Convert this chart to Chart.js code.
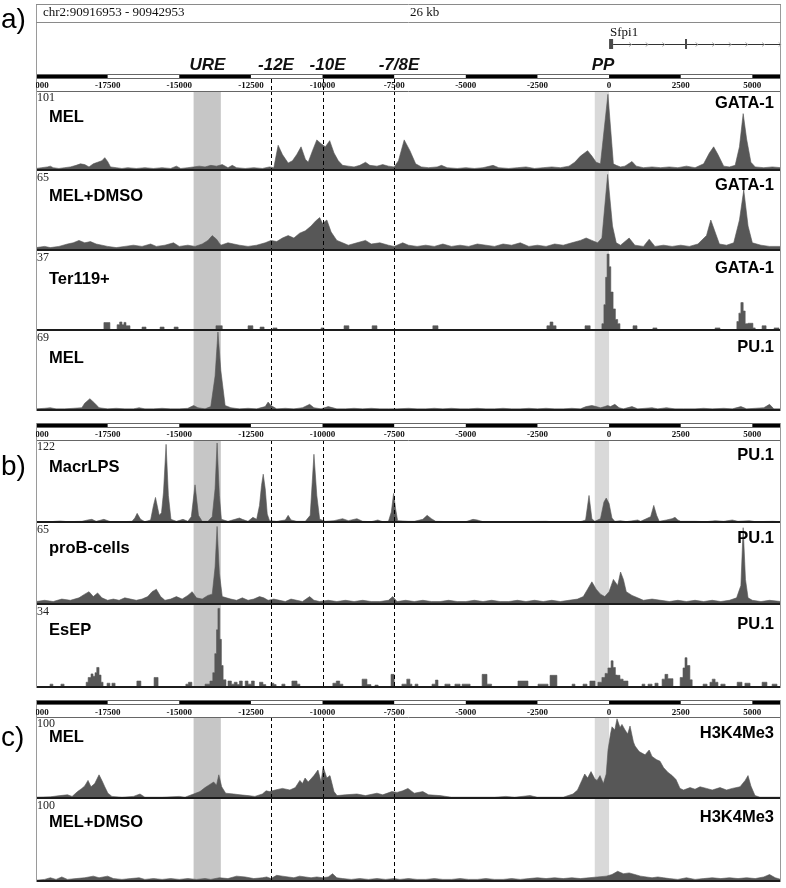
<!DOCTYPE html>
<html><head><meta charset="utf-8">
<script src="https://cdn.jsdelivr.net/npm/chart.js@4.4.0/dist/chart.umd.min.js"></script>
<style>
body{margin:0;background:#fff}
#wrap{position:relative;width:786px;height:888px;overflow:hidden;background:#fff}
#wrap canvas{position:absolute;left:0}
</style></head><body><div id="wrap"></div>
<script>
// ---------- axis / annotation values ----------
const X_MIN = -20000, X_MAX = 6000;
const rulerTicks = [-20000,-17500,-15000,-12500,-10000,-7500,-5000,-2500,0,2500,5000];
const ureBand = [-14500,-13550];
const ppBand = [-500,0];
const enhancerLines = [-11800,-10000,-7500];
const elementNames = ['URE','-12E','-10E','-7/8E','PP'];
const elementCenters = [-14015,-11624,-9826,-7331,-212];
const geneExon1 = [0,140];
const geneExon2 = [2650,2720];

// ---------- series ([position, signal]) ----------
const melGata1 = [[-20000,2],[-19800,3],[-19600,4],[-19500,5],[-19400,3],[-19200,2],[-19000,3],[-18800,4],[-18600,6],[-18450,8],[-18300,7],[-18150,4],[-18000,8],[-17850,10],[-17700,12],[-17600,16],[-17500,11],[-17400,4],[-17200,3],[-17000,2],[-16800,3],[-16500,2],[-16200,3],[-15900,2],[-15600,3],[-15300,2],[-15100,5],[-14950,2],[-14700,3],[-14500,4],[-14300,5],[-14100,4],[-13900,6],[-13700,5],[-13500,7],[-13300,3],[-13150,6],[-13000,3],[-12700,2],[-12400,3],[-12100,2],[-11850,4],[-11700,3],[-11550,32],[-11400,20],[-11200,9],[-11050,12],[-10900,20],[-10750,30],[-10600,14],[-10500,10],[-10350,25],[-10200,39],[-10050,34],[-9900,30],[-9750,38],[-9600,22],[-9450,12],[-9300,6],[-9100,5],[-8900,4],[-8700,6],[-8500,10],[-8350,6],[-8100,5],[-7900,7],[-7700,5],[-7500,4],[-7350,12],[-7150,39],[-6950,25],[-6750,8],[-6550,4],[-6300,3],[-6000,4],[-5850,6],[-5650,3],[-5300,2],[-5000,3],[-4700,2],[-4400,3],[-4050,6],[-3850,3],[-3500,2],[-3200,3],[-2900,4],[-2600,2],[-2300,3],[-2000,4],[-1700,3],[-1400,5],[-1200,10],[-1000,18],[-750,25],[-600,18],[-450,10],[-300,8],[-40,98],[150,8],[250,6],[400,4],[550,5],[800,11],[950,5],[1200,3],[1500,4],[1800,3],[2100,4],[2400,3],[2700,5],[3000,3],[3300,8],[3500,22],[3650,30],[3800,20],[4000,5],[4200,4],[4400,6],[4550,30],[4680,73],[4800,40],[4950,10],[5100,4],[5400,3],[5700,4],[6000,3]];

const dmsoGata1 = [[-20000,2],[-19700,3],[-19500,2],[-19200,3],[-18900,5],[-18700,6],[-18500,8],[-18300,6],[-18100,7],[-17900,5],[-17700,4],[-17500,3],[-17200,2],[-16900,3],[-16600,4],[-16300,3],[-16000,5],[-15800,3],[-15500,4],[-15200,6],[-15000,3],[-14700,4],[-14450,3],[-14200,5],[-14000,8],[-13850,12],[-13700,9],[-13550,4],[-13300,6],[-13100,5],[-12900,4],[-12600,3],[-12300,4],[-12000,6],[-11800,8],[-11600,7],[-11400,10],[-11200,12],[-11000,10],[-10800,14],[-10600,16],[-10400,20],[-10250,24],[-10100,27],[-10000,22],[-9850,25],[-9700,15],[-9500,8],[-9300,6],[-9100,4],[-8800,6],[-8500,8],[-8300,5],[-8000,6],[-7700,4],[-7500,3],[-7200,6],[-7000,4],[-6700,3],[-6400,4],[-6100,3],[-5800,5],[-5500,3],[-5200,4],[-4900,3],[-4600,5],[-4300,4],[-4000,3],[-3700,5],[-3400,4],[-3100,6],[-2800,3],[-2500,4],[-2200,3],[-1900,5],[-1600,4],[-1300,6],[-1000,8],[-800,10],[-600,8],[-400,6],[-250,10],[-50,63],[120,20],[250,6],[400,4],[700,10],[900,4],[1200,3],[1400,9],[1600,3],[1900,4],[2200,3],[2500,4],[2800,3],[3100,5],[3400,12],[3550,25],[3700,15],[3850,5],[4100,4],[4350,6],[4550,25],[4700,50],[4850,20],[5000,6],[5300,4],[5600,3],[6000,3]];

const terGata1 = [[-20000,0],[-17630,3.5],[-17420,0],[-17170,2.5],[-17080,3.8],[-17000,2.5],[-16930,3.6],[-16860,2],[-16720,0],[-16300,1.4],[-16160,0],[-15670,1.4],[-15530,0],[-15180,1.4],[-15040,0],[-13720,2],[-13500,0],[-12600,2],[-12430,0],[-12180,1.4],[-12040,0],[-11730,1],[-11590,0],[-10050,1],[-9950,0],[-9250,2],[-9080,0],[-8270,2],[-8100,0],[-6150,2],[-5970,0],[-2170,2],[-2060,3.8],[-1960,2],[-1850,0],[-840,2],[-660,0],[-250,3],[-180,12],[-120,25],[-70,36],[0,30],[60,18],[140,10],[220,5],[300,3],[380,0],[835,2],[975,0],[1530,1],[1670,0],[3700,1],[3870,0],[4460,4],[4530,8],[4600,13],[4680,9],[4750,3],[4850,3.2],[5020,1],[5100,0],[5340,2],[5480,0],[5760,1],[5930,0],[6000,0]];

const melPu1 = [[-20000,1],[-19700,1.5],[-19500,2],[-19300,1],[-19000,1],[-18700,1.5],[-18400,2],[-18300,6],[-18120,10],[-17950,6],[-17800,2],[-17500,1],[-17200,1.5],[-16900,1],[-16600,1],[-16400,2],[-16200,1],[-15900,1],[-15600,1.5],[-15300,1],[-15000,1],[-14700,1.5],[-14500,4],[-14350,2],[-14100,1],[-13900,3],[-13750,30],[-13650,69],[-13550,35],[-13400,4],[-13200,2],[-12900,1],[-12600,1.5],[-12300,1],[-12000,3],[-11900,7],[-11800,4],[-11600,1],[-11300,1.5],[-11000,1],[-10700,2],[-10450,5],[-10300,2],[-10050,1],[-9800,3],[-9500,1],[-9200,1],[-8900,1.5],[-8600,1],[-8300,1.5],[-8000,1],[-7700,1],[-7400,1],[-7000,1.5],[-6700,1],[-6400,1],[-6100,1.5],[-5800,1],[-5500,1.5],[-5200,1],[-4900,1],[-4600,1.5],[-4300,1],[-4000,1],[-3700,1.5],[-3400,1],[-3100,1],[-2800,1.5],[-2500,1],[-2200,1.5],[-1900,1],[-1600,1],[-1300,1.5],[-1000,1],[-800,3],[-600,4],[-450,3],[-300,2],[-150,3],[-50,4],[50,3],[200,5],[350,2],[500,1],[800,3],[1000,1],[1500,2],[1700,1],[2000,2],[2300,1],[2600,1],[3000,1],[3300,1.5],[3600,1],[4000,1.5],[4300,1],[4600,3],[4800,1],[5100,1.5],[5400,2],[5600,5],[5750,1],[6000,1]];

const macrPu1 = [[-20000,0.5],[-19500,0.5],[-19160,1.5],[-18900,0.5],[-18400,1],[-18200,3],[-18050,4],[-17900,1],[-17630,4],[-17400,0.5],[-17000,0.5],[-16650,1],[-16550,6],[-16470,13],[-16350,4],[-16200,0.5],[-16000,3],[-15900,25],[-15830,37],[-15700,10],[-15620,14],[-15550,45],[-15460,117],[-15380,40],[-15290,4],[-15100,1],[-14870,4],[-14700,1],[-14580,8],[-14450,56],[-14330,10],[-14200,1],[-14000,1],[-13850,8],[-13750,50],[-13680,119],[-13600,40],[-13530,4],[-13300,1],[-12900,6],[-12800,4],[-12600,1],[-12430,7],[-12300,4],[-12200,25],[-12130,55],[-12070,72],[-12000,50],[-11930,12],[-11850,2],[-11600,1],[-11300,3],[-11200,10],[-11100,3],[-10900,1],[-10600,1],[-10430,10],[-10360,60],[-10300,102],[-10200,40],[-10100,4],[-9900,1],[-9600,2],[-9300,5],[-9100,2],[-8800,5],[-8600,1],[-8300,0.5],[-8070,3],[-7900,0.5],[-7700,1],[-7600,15],[-7520,43],[-7450,20],[-7380,2],[-7000,1],[-6800,1],[-6500,4],[-6350,10],[-6200,5],[-6050,1],[-5500,0.5],[-5000,0.5],[-4750,4],[-4600,3],[-4400,0.5],[-4000,0.5],[-3500,0.5],[-2200,1],[-2000,0.5],[-1000,0.5],[-820,3],[-700,40],[-600,5],[-500,1],[-300,5],[-180,30],[-100,36],[0,28],[100,6],[200,1],[400,2],[600,0.5],[1000,3],[1100,1],[1450,8],[1560,25],[1660,10],[1750,1],[2000,3],[2200,5],[2300,7],[2400,3],[2500,1],[3000,1],[3400,0.5],[3700,2],[4000,1],[4300,3],[4500,1],[4900,2],[5100,0.5],[5700,1],[6000,0.5]];

const probPu1 = [[-20000,2],[-19700,3],[-19400,2],[-19100,4],[-18800,3],[-18500,5],[-18300,8],[-18150,10],[-18000,6],[-17850,9],[-17700,5],[-17500,3],[-17300,4],[-17100,3],[-16900,5],[-16700,4],[-16500,3],[-16300,4],[-16100,6],[-15950,10],[-15800,12],[-15650,6],[-15500,3],[-15300,4],[-15100,6],[-14900,4],[-14700,7],[-14550,10],[-14400,5],[-14200,4],[-14000,7],[-13850,8],[-13750,30],[-13680,63],[-13600,25],[-13500,6],[-13350,5],[-13200,4],[-13000,3],[-12800,5],[-12600,3],[-12400,4],[-12200,6],[-12050,5],[-11900,3],[-11700,4],[-11500,3],[-11300,2],[-11100,4],[-10900,3],[-10700,2],[-10450,6],[-10300,3],[-10100,2],[-9800,3],[-9500,2],[-9200,3],[-8900,2],[-8600,3],[-8300,2],[-8000,2],[-7700,3],[-7550,6],[-7400,2],[-7100,3],[-6800,2],[-6500,3],[-6200,2],[-5900,2],[-5600,3],[-5300,2],[-5000,2],[-4700,3],[-4400,2],[-4100,3],[-3800,2],[-3500,2],[-3200,3],[-2900,2],[-2600,3],[-2300,2],[-2000,3],[-1700,2],[-1400,3],[-1100,4],[-900,6],[-750,12],[-600,18],[-450,12],[-300,8],[-150,6],[0,10],[150,20],[300,15],[400,26],[500,20],[600,10],[800,7],[1000,5],[1200,3],[1500,4],[1800,3],[2100,2],[2400,3],[2700,2],[3000,3],[3300,2],[3600,3],[3900,2],[4200,3],[4450,5],[4600,15],[4680,62],[4760,20],[4850,5],[5000,3],[5300,2],[5600,3],[6000,2]];

const esepPu1 = [[-20000,0],[-19510,1.2],[-19410,0],[-19130,1.2],[-19020,0],[-18250,2],[-18180,4],[-18080,5.5],[-18010,4.5],[-17940,6],[-17880,8.2],[-17800,5],[-17730,2],[-17660,0],[-17520,1.6],[-17420,0],[-17350,1.6],[-17240,0],[-16480,2.5],[-16340,0],[-15880,4],[-15740,0],[-14770,1.2],[-14680,2],[-14560,0],[-14100,1.2],[-13930,2.5],[-13830,6],[-13760,14],[-13700,24],[-13650,33],[-13590,20],[-13530,9],[-13470,3],[-13370,0],[-13300,2.5],[-13180,1.2],[-13080,2],[-12980,1],[-12900,2.5],[-12800,0],[-12700,2.5],[-12600,1.2],[-12480,2.5],[-12380,0],[-12200,2],[-12080,1],[-11980,0],[-11800,1.6],[-11700,1],[-11620,0],[-11420,1.2],[-11310,0],[-11070,2.5],[-10890,1.2],[-10790,0],[-9640,1.6],[-9520,2.5],[-9400,1.2],[-9290,0],[-8620,3.3],[-8450,1],[-8310,0],[-8170,0.8],[-8060,0],[-7610,5.3],[-7500,0],[-7230,1.2],[-7060,3.3],[-6950,1.2],[-6880,0],[-6770,1.2],[-6670,0],[-6180,1.2],[-6060,2.9],[-5970,0],[-5730,1.2],[-5550,0],[-5380,1.2],[-5200,0],[-5130,1.2],[-4850,0],[-4430,5.3],[-4260,1.2],[-4100,0],[-3180,2.5],[-2830,0],[-2480,1.2],[-2130,0],[-2060,4.9],[-1820,0],[-1290,1.2],[-1190,0],[-910,1.2],[-770,0],[-670,2.5],[-490,0],[-390,2],[-250,4],[-140,5.7],[-40,8],[70,11],[140,8.2],[220,5],[280,4.9],[380,3.3],[490,2.5],[660,0],[1150,1.2],[1250,0],[1360,1.2],[1500,0],[1600,1.6],[1710,0],[1850,3.3],[1950,5.3],[2050,3.5],[2230,0],[2480,4],[2580,8],[2650,12.3],[2720,9],[2820,3],[2900,0],[3280,1.2],[3420,0],[3520,2],[3600,3.3],[3700,2],[3800,0],[3900,1.2],[4050,0],[4470,2],[4640,0],[4740,1.6],[4920,0],[5340,2],[5510,0],[5690,1.2],[5860,0],[6000,0]];

const melK4 = [[-20000,1],[-19500,1.5],[-19160,3],[-18900,4],[-18740,2],[-18550,8],[-18400,12],[-18300,15],[-18185,22],[-18080,14],[-17950,18],[-17800,29],[-17700,22],[-17600,14],[-17490,6],[-17350,2],[-17000,1],[-16600,2],[-16370,5],[-16200,1],[-15600,1],[-15000,2],[-14800,1],[-14500,5],[-14280,8],[-14100,13],[-13930,17],[-13800,20],[-13700,16],[-13620,29],[-13520,14],[-13380,6],[-13100,5],[-12880,4],[-12600,3],[-12360,2],[-12100,5],[-11970,9],[-11850,8],[-11650,10],[-11400,12],[-11140,10],[-10950,13],[-10790,22],[-10700,18],[-10610,25],[-10500,20],[-10300,28],[-10160,35],[-10050,20],[-9980,39],[-9850,25],[-9740,28],[-9600,8],[-9495,3],[-9200,4],[-8800,5],[-8500,3],[-8100,6],[-7900,4],[-7580,8],[-7400,7],[-7200,9],[-7020,12],[-6800,6],[-6500,8],[-6300,4],[-5900,3],[-5500,1],[-4000,1],[-3600,2],[-3300,1],[-2760,3],[-2500,1],[-1600,1],[-1260,5],[-1100,10],[-950,22],[-850,30],[-750,25],[-630,33],[-500,24],[-420,22],[-316,28],[-200,18],[-100,30],[-37,60],[50,80],[102,89],[200,85],[277,99],[382,88],[450,92],[557,85],[650,80],[731,90],[850,70],[906,65],[1050,58],[1255,54],[1400,60],[1498,52],[1650,48],[1778,46],[1900,38],[2057,32],[2200,28],[2336,23],[2476,12],[2600,10],[2825,13],[3000,11],[3174,14],[3400,12],[3600,10],[3872,13],[4100,10],[4300,12],[4570,14],[4750,22],[4849,28],[4950,15],[5093,3],[5268,1],[6000,1]];

const dmsoK4 = [[-20000,1],[-19700,2],[-19500,4],[-19300,2],[-19100,5],[-18900,2],[-18600,3],[-18300,4],[-18000,6],[-17800,4],[-17500,6],[-17300,3],[-17000,2],[-16700,3],[-16400,4],[-16200,2],[-15900,3],[-15600,2],[-15300,3],[-15000,2],[-14700,3],[-14400,2],[-14100,3],[-13900,2],[-13600,4],[-13300,3],[-13000,6],[-12700,5],[-12400,3],[-12100,4],[-11950,5],[-11800,3],[-11600,7],[-11400,6],[-11200,5],[-11000,4],[-10800,6],[-10600,5],[-10400,4],[-10200,5],[-10000,4],[-9800,5],[-9650,9],[-9500,4],[-9300,3],[-9000,2],[-8700,3],[-8400,2],[-8100,3],[-7800,2],[-7500,3],[-7300,2],[-7000,3],[-6700,2],[-6400,2],[-6100,3],[-5800,2],[-5500,2],[-5200,3],[-4900,2],[-4600,2],[-4300,3],[-4000,2],[-3700,2],[-3400,3],[-3100,2],[-2800,3],[-2500,4],[-2200,3],[-1900,4],[-1600,3],[-1300,4],[-1000,3],[-700,4],[-400,5],[-100,6],[100,8],[300,12],[500,9],[700,10],[900,8],[1100,6],[1300,5],[1500,4],[1700,5],[1900,4],[2100,3],[2400,2],[2700,4],[3000,2],[3300,3],[3600,4],[3900,3],[4200,4],[4500,3],[4800,4],[5100,3],[5400,5],[5600,8],[5800,4],[6000,2]];

// ---------- layout table ----------
const tracks = [
 {top:91, h:80, data:melGata1, max:101, name:'MEL',        target:'GATA-1',  nameY:26, targetY:12, topLine:true},
 {top:171,h:80, data:dmsoGata1,max:65,  name:'MEL+DMSO',   target:'GATA-1',  nameY:25, targetY:14},
 {top:251,h:80, data:terGata1, max:37,  name:'Ter119+',    target:'GATA-1',  nameY:28, targetY:17, stepped:true},
 {top:331,h:80, data:melPu1,   max:69,  name:'MEL',        target:'PU.1',    nameY:27, targetY:16},
 {top:440,h:83, data:macrPu1,  max:122, name:'MacrLPS',    target:'PU.1',    nameY:27, targetY:15, topLine:true, panel:'b)', panelY:27},
 {top:523,h:82, data:probPu1,  max:65,  name:'proB-cells', target:'PU.1',    nameY:25, targetY:15},
 {top:605,h:83, data:esepPu1,  max:34,  name:'EsEP',       target:'PU.1',    nameY:25, targetY:19, stepped:true},
 {top:717,h:82, data:melK4,    max:100, name:'MEL',        target:'H3K4Me3', nameY:20, targetY:16, topLine:true, panel:'c)', panelY:21},
 {top:799,h:83, data:dmsoK4,   max:100, name:'MEL+DMSO',   target:'H3K4Me3', nameY:23, targetY:18}
];
const rulers = [
 {top:0,   h:91, barTop:74, barH:5, labelY:86, header:true},
 {top:411, h:29, barTop:12, barH:5, labelY:24},
 {top:688, h:29, barTop:12, barH:5, labelY:25}
];

const SANS = '"Liberation Sans", Arial, sans-serif';
const SERIF = '"Liberation Serif", "Times New Roman", serif';
const L = 36, R = 781;

function vline(ctx,x,y1,y2){ctx.beginPath();ctx.moveTo(x,y1);ctx.lineTo(x,y2);ctx.stroke();}
function hline(ctx,y,x1,x2){ctx.beginPath();ctx.moveTo(x1,y);ctx.lineTo(x2,y);ctx.stroke();}

const trackPlugin = {
  id:'trk',
  beforeDatasetsDraw(chart,args,o){
    const {ctx} = chart; const X = chart.scales.x;
    ctx.save();
    ctx.fillStyle = '#c6c6c6';
    let x1 = X.getPixelForValue(ureBand[0]), x2 = X.getPixelForValue(ureBand[1]);
    ctx.fillRect(x1, 0, x2-x1, chart.height);
    ctx.fillStyle = '#d9d9d9';
    x1 = X.getPixelForValue(ppBand[0]); x2 = X.getPixelForValue(ppBand[1]);
    ctx.fillRect(x1, 0, x2-x1, chart.height);
    ctx.restore();
  },
  afterDatasetsDraw(chart,args,o){
    const {ctx} = chart; const X = chart.scales.x; const H = chart.height;
    ctx.save();
    ctx.strokeStyle = '#000'; ctx.lineWidth = 1; ctx.setLineDash([4,3]);
    for (const v of enhancerLines){ const x = Math.round(X.getPixelForValue(v))+0.5; vline(ctx,x,0,H); }
    ctx.setLineDash([]);
    ctx.strokeStyle = '#1c1c1c'; ctx.lineWidth = 2; hline(ctx,H-1,L,R);
    if (o.topLine){ ctx.strokeStyle='#666'; ctx.lineWidth=1; hline(ctx,0.5,L,R); }
    ctx.strokeStyle = '#9a9a9a'; ctx.lineWidth = 1; vline(ctx,L+0.5,0,H); vline(ctx,R-0.5,0,H);
    ctx.fillStyle = '#000';
    ctx.font = 'bold 16.5px '+SANS; ctx.textBaseline='middle';
    ctx.textAlign='left'; ctx.fillText(o.name,49,o.nameY);
    ctx.textAlign='right'; ctx.fillText(o.target,774,o.targetY);
    ctx.font = '12px '+SERIF; ctx.textAlign='left'; ctx.textBaseline='top';
    ctx.fillStyle='#222'; ctx.fillText(String(o.max),37,1);
    if (o.panel){ ctx.fillStyle='#000'; ctx.font='28px '+SANS; ctx.textBaseline='middle'; ctx.fillText(o.panel,1,o.panelY); }
    ctx.restore();
  }
};

const rulerPlugin = {
  id:'rul',
  afterDraw(chart,args,o){
    const {ctx} = chart; const X = chart.scales.x; const H = chart.height;
    ctx.save();
    const edges = rulerTicks.concat([X_MAX]);
    for (let i=0;i<edges.length-1;i++){
      if (i%2===0){ const a=X.getPixelForValue(edges[i]), b=X.getPixelForValue(edges[i+1]); ctx.fillStyle='#000'; ctx.fillRect(a,o.barTop,b-a,o.barH); }
    }
    ctx.strokeStyle='#666'; ctx.lineWidth=1; ctx.strokeRect(L+0.5,o.barTop+0.5,R-L-1,o.barH-1);
    ctx.strokeStyle='#9a9a9a'; vline(ctx,L+0.5,o.header?4:o.barTop,H); vline(ctx,R-0.5,o.header?4:o.barTop,H);
    ctx.save(); ctx.beginPath(); ctx.rect(L,0,R-L,H); ctx.clip();
    ctx.fillStyle='#111'; ctx.font='bold 9px '+SERIF; ctx.textAlign='center'; ctx.textBaseline='middle';
    for (const t of rulerTicks){ ctx.fillText(String(t), X.getPixelForValue(t), o.labelY); }
    ctx.restore();
    if (o.header){
      ctx.strokeStyle='#8a8a8a'; ctx.lineWidth=1; hline(ctx,4.5,L,R); hline(ctx,22.5,L,R);
      ctx.fillStyle='#111'; ctx.font='13px '+SERIF; ctx.textAlign='left'; ctx.textBaseline='middle';
      ctx.fillText('chr2:90916953 - 90942953',43,13);
      ctx.fillText('26 kb',410,13);
      const e1a=X.getPixelForValue(geneExon1[0]), e1b=X.getPixelForValue(geneExon1[1]);
      const e2a=X.getPixelForValue(geneExon2[0]), e2b=X.getPixelForValue(geneExon2[1]);
      ctx.strokeStyle='#333'; hline(ctx,44.5,e1b,R);
      ctx.fillStyle='#4a4a4a'; ctx.fillRect(e1a,39,e1b-e1a,10); ctx.fillRect(e2a,39,Math.max(2,e2b-e2a),10);
      ctx.strokeStyle='#aaa';
      for (let v=750; v<X_MAX; v+=580){ if (Math.abs(v-2680)<250) continue; const x=X.getPixelForValue(v); ctx.beginPath(); ctx.moveTo(x-1.5,42.5); ctx.lineTo(x+1,44.5); ctx.lineTo(x-1.5,46.5); ctx.stroke(); }
      ctx.fillStyle='#111'; ctx.font='13px '+SERIF; ctx.fillText('Sfpi1',610,33);
      ctx.font='italic bold 17px '+SANS; ctx.textAlign='center'; ctx.textBaseline='middle'; ctx.fillStyle='#111';
      elementNames.forEach((n,i)=>ctx.fillText(n,X.getPixelForValue(elementCenters[i]),65));
      ctx.strokeStyle='#000'; ctx.setLineDash([4,3]);
      for (const v of enhancerLines){ const x=Math.round(X.getPixelForValue(v))+0.5; vline(ctx,x,o.barTop+o.barH,H); }
      ctx.setLineDash([]);
      ctx.fillStyle='#000'; ctx.font='28px '+SANS; ctx.textAlign='left'; ctx.fillText('a)',1,20);
    }
    ctx.restore();
  }
};

const wrap = document.getElementById('wrap');
function mkCanvas(top,h){ const c=document.createElement('canvas'); c.width=786; c.height=h; c.style.top=top+'px'; c.style.width='786px'; c.style.height=h+'px'; wrap.appendChild(c); return c; }
const xScale = {type:'linear', min:X_MIN, max:X_MAX, display:false};

for (const r of rulers){
  new Chart(mkCanvas(r.top,r.h), {
    type:'line', data:{datasets:[{data:[]}]},
    options:{responsive:false, animation:false, devicePixelRatio:1,
      layout:{padding:{left:L, right:786-R, top:0, bottom:0}},
      scales:{x:xScale, y:{display:false,min:0,max:1}},
      plugins:{legend:{display:false}, tooltip:{enabled:false}, rul:r}},
    plugins:[rulerPlugin]
  });
}
for (const t of tracks){
  new Chart(mkCanvas(t.top,t.h), {
    type:'line',
    data:{datasets:[{data:t.data.map(p=>({x:p[0],y:p[1]})), fill:'start', backgroundColor:'#575757', borderColor:'#575757', borderWidth:0.6, pointRadius:0, tension:0, stepped:!!t.stepped}]},
    options:{responsive:false, animation:false, devicePixelRatio:1,
      layout:{padding:{left:L, right:786-R, top:1, bottom:1}},
      scales:{x:xScale, y:{display:false, min:0, max:t.max}},
      plugins:{legend:{display:false}, tooltip:{enabled:false}, trk:t}},
    plugins:[trackPlugin]
  });
}
</script></body></html>
